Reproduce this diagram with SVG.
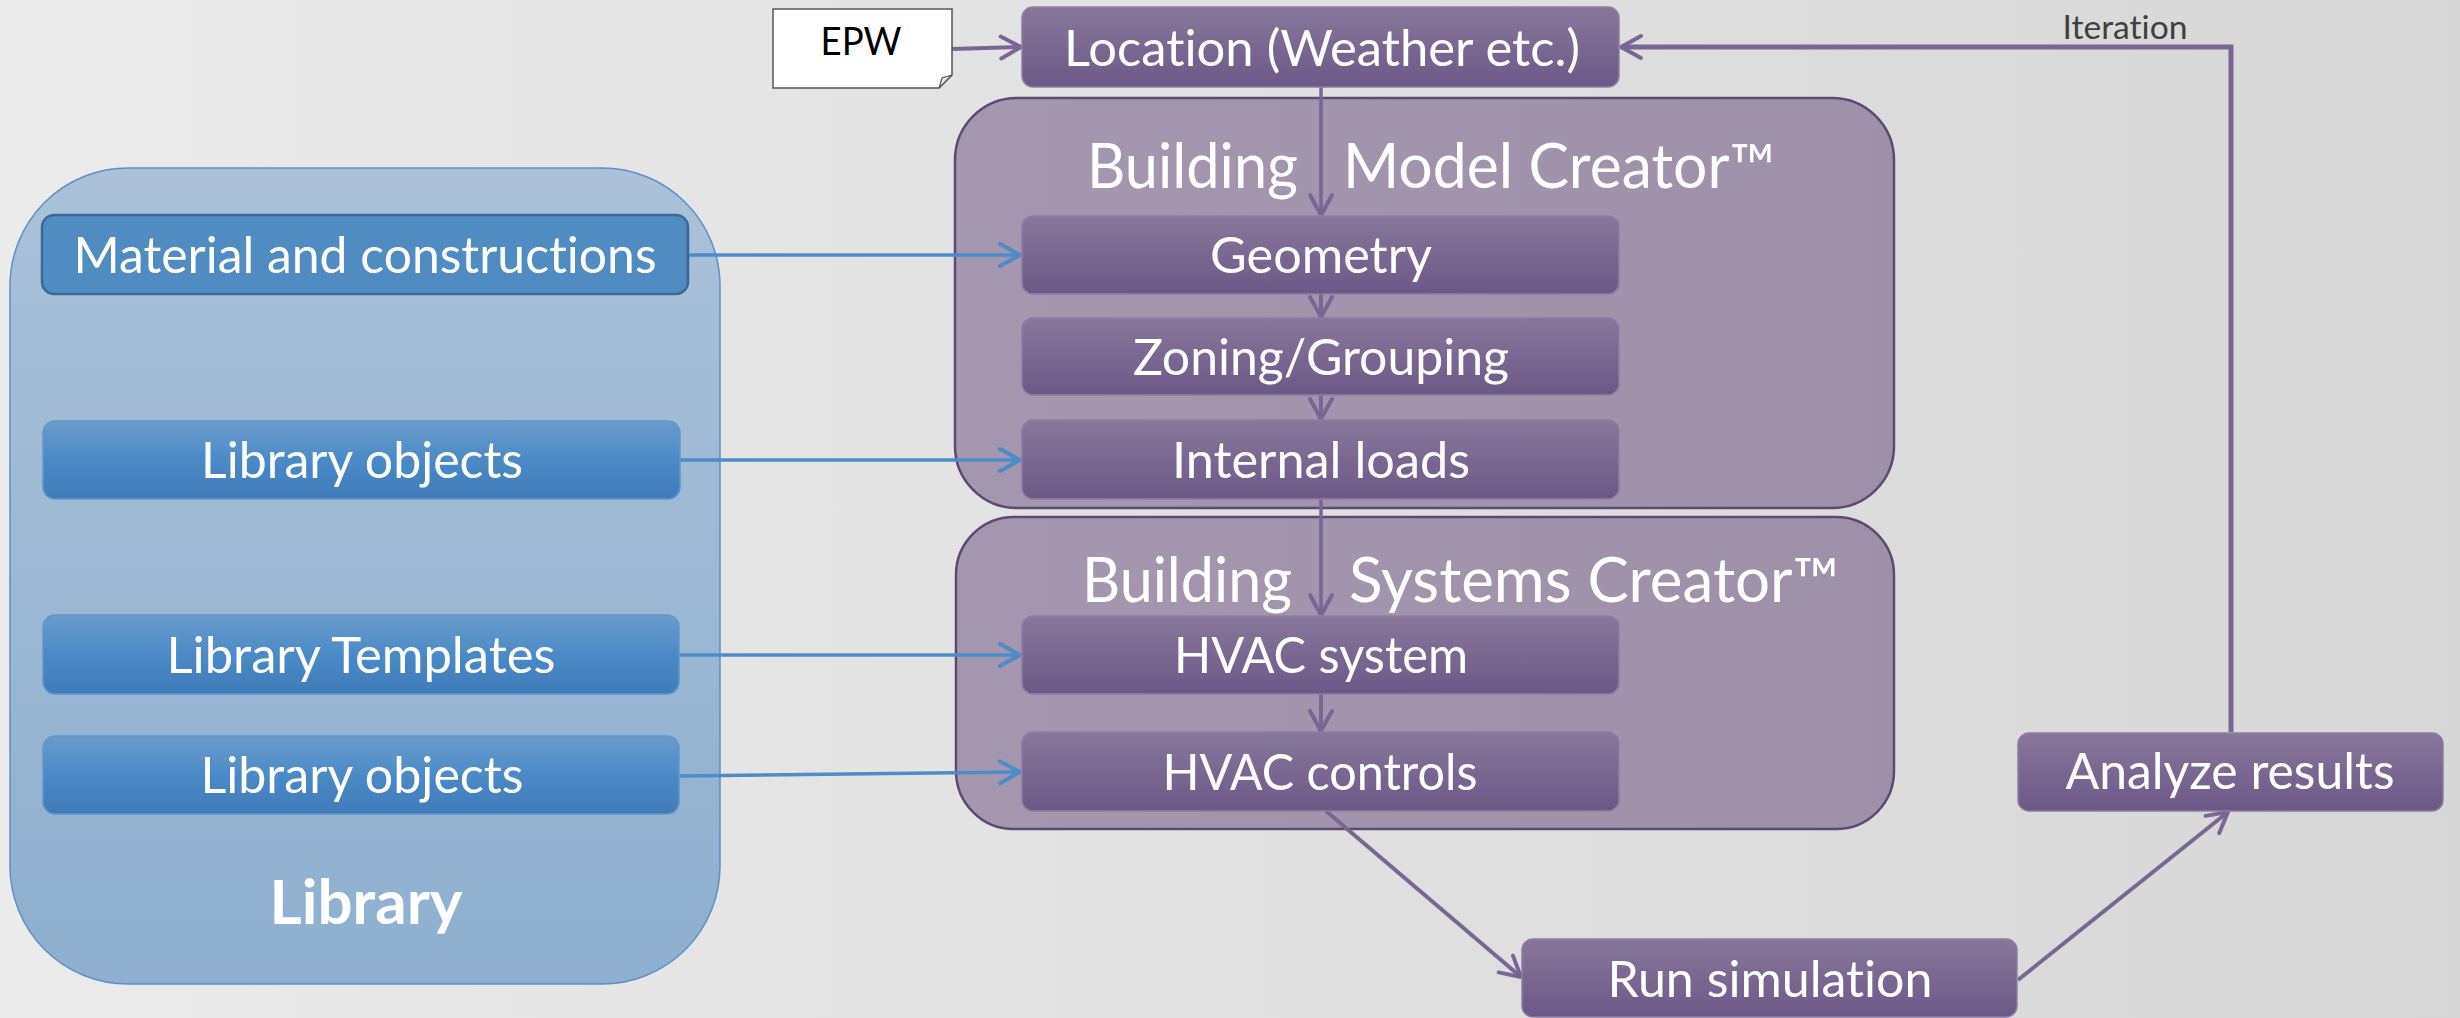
<svg xmlns="http://www.w3.org/2000/svg" width="2460" height="1018" viewBox="0 0 2460 1018">
  <defs>
    <linearGradient id="bg" x1="0" y1="0" x2="1" y2="0">
      <stop offset="0" stop-color="#EBEBEB"/>
      <stop offset="1" stop-color="#D7D7D7"/>
    </linearGradient>
    <linearGradient id="gPurple" x1="0" y1="0" x2="0" y2="1">
      <stop offset="0" stop-color="#88779B"/>
      <stop offset="1" stop-color="#6C5887"/>
    </linearGradient>
    <linearGradient id="gBlue" x1="0" y1="0" x2="0" y2="1">
      <stop offset="0" stop-color="#6A9CCC"/>
      <stop offset="0.5" stop-color="#4B8AC7"/>
      <stop offset="1" stop-color="#3F7BB8"/>
    </linearGradient>
    <linearGradient id="gLib" x1="0" y1="0" x2="0" y2="1">
      <stop offset="0" stop-color="#AAC1D9"/>
      <stop offset="1" stop-color="#8EAFCF"/>
    </linearGradient>
    <linearGradient id="gCont" x1="0" y1="0" x2="1" y2="0">
      <stop offset="0" stop-color="#A497AF"/>
      <stop offset="1" stop-color="#9E90A9"/>
    </linearGradient>
    <marker id="arrP" markerUnits="userSpaceOnUse" viewBox="-26 -15 30 30" markerWidth="30" markerHeight="30" refX="-1" refY="0" orient="auto">
      <path d="M-21,-11 L-1,0 L-21,11" fill="none" stroke="#7A6595" stroke-width="4" stroke-linecap="round" stroke-linejoin="round"/>
    </marker>
    <marker id="arrB" markerUnits="userSpaceOnUse" viewBox="-26 -15 30 30" markerWidth="30" markerHeight="30" refX="-1" refY="0" orient="auto">
      <path d="M-21,-11 L-1,0 L-21,11" fill="none" stroke="#4D8CC8" stroke-width="4" stroke-linecap="round" stroke-linejoin="round"/>
    </marker>
    <style>
      text { font-variant-ligatures: none; font-feature-settings: "liga" 0, "clig" 0; }
      .lbl { font-family: Lato, "Open Sans", "Liberation Sans", sans-serif; fill: #FFFFFF; font-size: 50px; text-anchor: middle; }
      .title { font-family: Lato, "Open Sans", "Liberation Sans", sans-serif; fill: #FFFFFF; font-size: 61px; }
      .pnode { fill: url(#gPurple); stroke: #8E7DA3; stroke-width: 1.5; }
      .bnode { fill: url(#gBlue); stroke: #5F97CC; stroke-width: 1.5; }
      .cont { fill: url(#gCont); stroke: #5C4A73; stroke-width: 2.5; }
      .pline { fill: none; stroke: #7A6595; stroke-width: 4; }
      .bline { fill: none; stroke: #4D8CC8; stroke-width: 3.5; }
    </style>
  </defs>

  <rect x="0" y="0" width="2460" height="1018" fill="url(#bg)"/>

  <!-- Containers -->
  <g id="library">
    <rect x="10" y="168" width="710" height="816" rx="118" ry="118" fill="url(#gLib)" stroke="#5E8FC6" stroke-width="1.5"/>
    <text x="366" y="924" class="lbl" style="font-weight:bold;font-size:62px" textLength="193" lengthAdjust="spacingAndGlyphs">Library</text>
  </g>
  <g id="building-model-creator">
    <rect x="955" y="98" width="939" height="410" rx="62" ry="62" class="cont"/>
    <text class="title"><tspan x="1087" y="188" textLength="211" lengthAdjust="spacingAndGlyphs">Building</tspan><tspan x="1343" y="188" textLength="432" lengthAdjust="spacingAndGlyphs">Model Creator™</tspan></text>
  </g>
  <g id="building-systems-creator">
    <rect x="956" y="517" width="938" height="312" rx="58" ry="58" class="cont"/>
    <text class="title"><tspan x="1082" y="602" textLength="210" lengthAdjust="spacingAndGlyphs">Building</tspan><tspan x="1349" y="602" textLength="490" lengthAdjust="spacingAndGlyphs">Systems Creator™</tspan></text>
  </g>

  <!-- Connectors -->
  <g id="connectors">
    <line x1="952" y1="49" x2="1021" y2="47" class="pline" marker-end="url(#arrP)"/>
    <polyline points="2231,732 2231,47 1621,47" class="pline" style="stroke-width:5" marker-end="url(#arrP)"/>
    <line x1="1321" y1="87" x2="1321" y2="215" class="pline" style="stroke-width:3.5" marker-end="url(#arrP)"/>
    <line x1="1321" y1="294" x2="1321" y2="317" class="pline" marker-end="url(#arrP)"/>
    <line x1="1321" y1="395" x2="1321" y2="419" class="pline" marker-end="url(#arrP)"/>
    <line x1="1321" y1="499" x2="1321" y2="615" class="pline" style="stroke-width:3.5" marker-end="url(#arrP)"/>
    <line x1="1321" y1="694" x2="1321" y2="731" class="pline" marker-end="url(#arrP)"/>
    <line x1="1326" y1="811" x2="1521" y2="977" class="pline" marker-end="url(#arrP)"/>
    <line x1="2018" y1="980" x2="2228" y2="812" class="pline" marker-end="url(#arrP)"/>
    <line x1="688" y1="255" x2="1020" y2="255" class="bline" marker-end="url(#arrB)"/>
    <line x1="680" y1="460" x2="1020" y2="460" class="bline" marker-end="url(#arrB)"/>
    <line x1="679" y1="655" x2="1020" y2="655" class="bline" marker-end="url(#arrB)"/>
    <line x1="679" y1="776" x2="1020" y2="772" class="bline" marker-end="url(#arrB)"/>
  </g>
  <text x="2125" y="39" style="font-family:Lato,'Open Sans','Liberation Sans',sans-serif;font-size:32px;fill:#404040;text-anchor:middle" textLength="125" lengthAdjust="spacingAndGlyphs">Iteration</text>

  <!-- Nodes -->
  <g id="epw">
    <path d="M773,9 H952 V75 L939,88 H773 Z" fill="#FFFFFF" stroke="#555555" stroke-width="1.5"/>
    <path d="M952,75 L942,78 L939,88 Z" fill="#E6E6E6" stroke="#555555" stroke-width="1.2"/>
    <text x="861" y="55" style="font-family:Lato,'Open Sans','Liberation Sans',sans-serif;font-size:38px;fill:#000000;text-anchor:middle" textLength="81" lengthAdjust="spacingAndGlyphs">EPW</text>
  </g>
  <g id="location">
    <rect x="1022" y="7" width="597" height="80" rx="11" class="pnode"/>
    <text x="1322" y="66" class="lbl" textLength="516" lengthAdjust="spacingAndGlyphs">Location (Weather etc.)</text>
  </g>
  <g id="geometry">
    <rect x="1022" y="216" width="597" height="78" rx="11" class="pnode"/>
    <text x="1321" y="273" class="lbl" textLength="222" lengthAdjust="spacingAndGlyphs">Geometry</text>
  </g>
  <g id="zoning">
    <rect x="1022" y="318" width="597" height="77" rx="11" class="pnode"/>
    <text x="1321" y="375" class="lbl" textLength="376" lengthAdjust="spacingAndGlyphs">Zoning/Grouping</text>
  </g>
  <g id="internal-loads">
    <rect x="1022" y="420" width="597" height="79" rx="11" class="pnode"/>
    <text x="1321" y="478" class="lbl" textLength="298" lengthAdjust="spacingAndGlyphs">Internal loads</text>
  </g>
  <g id="hvac-system">
    <rect x="1022" y="616" width="597" height="78" rx="11" class="pnode"/>
    <text x="1321" y="673" class="lbl" textLength="294" lengthAdjust="spacingAndGlyphs">HVAC system</text>
  </g>
  <g id="hvac-controls">
    <rect x="1022" y="732" width="597" height="79" rx="11" class="pnode"/>
    <text x="1320" y="790" class="lbl" textLength="315" lengthAdjust="spacingAndGlyphs">HVAC controls</text>
  </g>
  <g id="run-simulation">
    <rect x="1522" y="939" width="495" height="78" rx="11" class="pnode"/>
    <text x="1770" y="997" class="lbl" textLength="325" lengthAdjust="spacingAndGlyphs">Run simulation</text>
  </g>
  <g id="analyze-results">
    <rect x="2018" y="733" width="425" height="78" rx="11" class="pnode"/>
    <text x="2230" y="789" class="lbl" textLength="329" lengthAdjust="spacingAndGlyphs">Analyze results</text>
  </g>
  <g id="material">
    <rect x="42" y="215" width="646" height="79" rx="12" fill="#508CC2" stroke="#3C6898" stroke-width="2.5"/>
    <text x="365" y="273" class="lbl" textLength="583" lengthAdjust="spacingAndGlyphs">Material and constructions</text>
  </g>
  <g id="library-objects-1">
    <rect x="43" y="421" width="637" height="78" rx="12" class="bnode"/>
    <text x="362" y="478" class="lbl" textLength="322" lengthAdjust="spacingAndGlyphs">Library objects</text>
  </g>
  <g id="library-templates">
    <rect x="43" y="615" width="636" height="79" rx="12" class="bnode"/>
    <text x="361" y="673" class="lbl" textLength="389" lengthAdjust="spacingAndGlyphs">Library Templates</text>
  </g>
  <g id="library-objects-2">
    <rect x="43" y="736" width="636" height="78" rx="12" class="bnode"/>
    <text x="362" y="793" class="lbl" textLength="323" lengthAdjust="spacingAndGlyphs">Library objects</text>
  </g>
</svg>
